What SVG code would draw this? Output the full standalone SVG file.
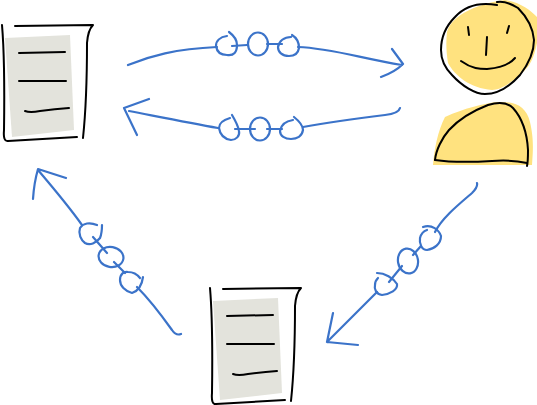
<svg xmlns="http://www.w3.org/2000/svg" width="537" height="405" viewBox="0 0 537 405">
<defs>
<style>
.ink{fill:none;stroke:#000;stroke-width:2;stroke-linecap:round;stroke-linejoin:round}
.wire{fill:none;stroke:#3b73c9;stroke-width:2.2;stroke-linecap:round;stroke-linejoin:round}
.paper{fill:#e3e3dc}
.skin{fill:#ffe27f}
</style>
<g id="doc-shape">
<path class="paper" d="M5 38L70 35L74 130L12 137Z"/>
<path class="ink" d="M15 26L93 25Q88 30 87 43Q87 100 83 138"/>
<path class="ink" d="M2 25Q5 60 4 130Q3 142 8 141Q40 139 77 137"/>
<path class="ink" d="M19 53L65 52M19 81L66 81M25 111Q30 113 40 111Q55 109 69 108"/>
</g>
</defs>
<g id="doc-top-left"><use href="#doc-shape"/></g>
<g id="doc-bottom"><use href="#doc-shape" transform="translate(208 263)"/></g>
<g id="person">
<path class="skin" d="M447 32C452 14 480 3 505 0C520 2 530 10 537 17L537 43C534 58 530 66 522 73C510 84 500 90 492 90C470 88 455 76 448 63C446 50 446 42 447 32Z"/>
<path class="skin" d="M445 117C465 108 482 104 497 102C515 101 526 106 530 122C534 140 533 150 532 165L433 165C434 150 438 130 445 117Z"/>
<path class="ink" d="M497 5C480 2 465 6 455 17C444 28 441 40 441 50C441 60 445 68 452 75C462 86 475 94 485 94C500 94 512 84 520 75C530 62 534 50 534 40C533 28 527 17 518 8C510 3 503 1 497 2"/>
<path class="ink" d="M468 27L469 35M509 26L507 33M487 37L486 55M461 61C472 69 480 69 487 69C500 68 510 64 515 58"/>
<path class="ink" d="M435 160C436 150 442 138 449 130C460 118 475 110 488 105C498 102 507 102 513 108C522 118 527 132 528 150C528 156 528 162 527 166"/>
<path class="ink" d="M435 160C455 163 475 162 492 161C505 160 518 161 527 163"/>
</g>
<g id="connectors">
<g id="link-top">
<path class="wire" d="M128 65C150 56 175 49 217 47M232 46L247 45M267 44L282 44M298 47C330 48 360 58 402 65M392 49L403 64Q395 72 381 77"/>
<path class="wire" d="M227 36C220 37 216 41 216 46C217 53 222 55 227 55C234 56 237 52 237 45C237 40 233 35 229 32"/>
<ellipse class="wire" cx="258" cy="44" rx="10" ry="11.5"/>
<path class="wire" d="M292 35C297 38 299 43 299 48C298 54 294 56 289 56C282 56 278 52 278 47C279 41 284 37 291 37"/>
</g>
<g id="link-bottom">
<path class="wire" d="M400 108C399 112 395 114 385 115C360 118 330 122 303 127M282 129L267 129M255 129L235 129M218 128C190 123 160 117 129 111M149 99L124 108L137 135"/>
<path class="wire" d="M230 118C223 120 219 124 219 128C220 135 225 139 231 140C236 140 240 136 239 131C238 125 235 120 232 115"/>
<ellipse class="wire" cx="260" cy="129" rx="10" ry="11.5"/>
<path class="wire" d="M294 117C299 121 303 125 303 130C302 136 297 139 291 139C285 139 280 136 280 131C281 125 286 121 293 120"/>
</g>
<g id="link-left">
<path class="wire" d="M33 199Q34 183 38 169L66 178M38 170C55 190 70 208 82 225M93 237L107 253M114 262L125 273M137 287C150 300 162 316 172 330Q176 336 181 334"/>
<path class="wire" d="M97 225C90 222 83 223 80 228C78 234 81 240 85 243C90 246 96 243 100 238C102 233 102 229 102 225"/>
<ellipse class="wire" cx="111" cy="257" rx="12.5" ry="10" transform="rotate(10 111 257)"/>
<path class="wire" d="M143 277C142 285 138 291 132 293C125 291 120 286 120 280C120 274 124 271 128 272C133 272 137 274 140 278"/>
</g>
<g id="link-right">
<path class="wire" d="M477 183Q478 187 472 193C458 205 442 218 435 232M421 246L413 255M402 266L389 282M377 292L327 342M333 313L327 342L358 345"/>
<path class="wire" d="M423 227C432 224 439 230 441 236C441 244 434 249 427 250C422 250 419 244 420 238C421 234 424 231 427 230"/>
<ellipse class="wire" cx="408" cy="261" rx="10" ry="12.5" transform="rotate(-10 408 261)"/>
<path class="wire" d="M377 273C385 273 393 278 397 284C398 290 390 294 382 295C376 294 374 289 375 285C375 282 376 280 378 278"/>
</g>
</g>
</svg>
